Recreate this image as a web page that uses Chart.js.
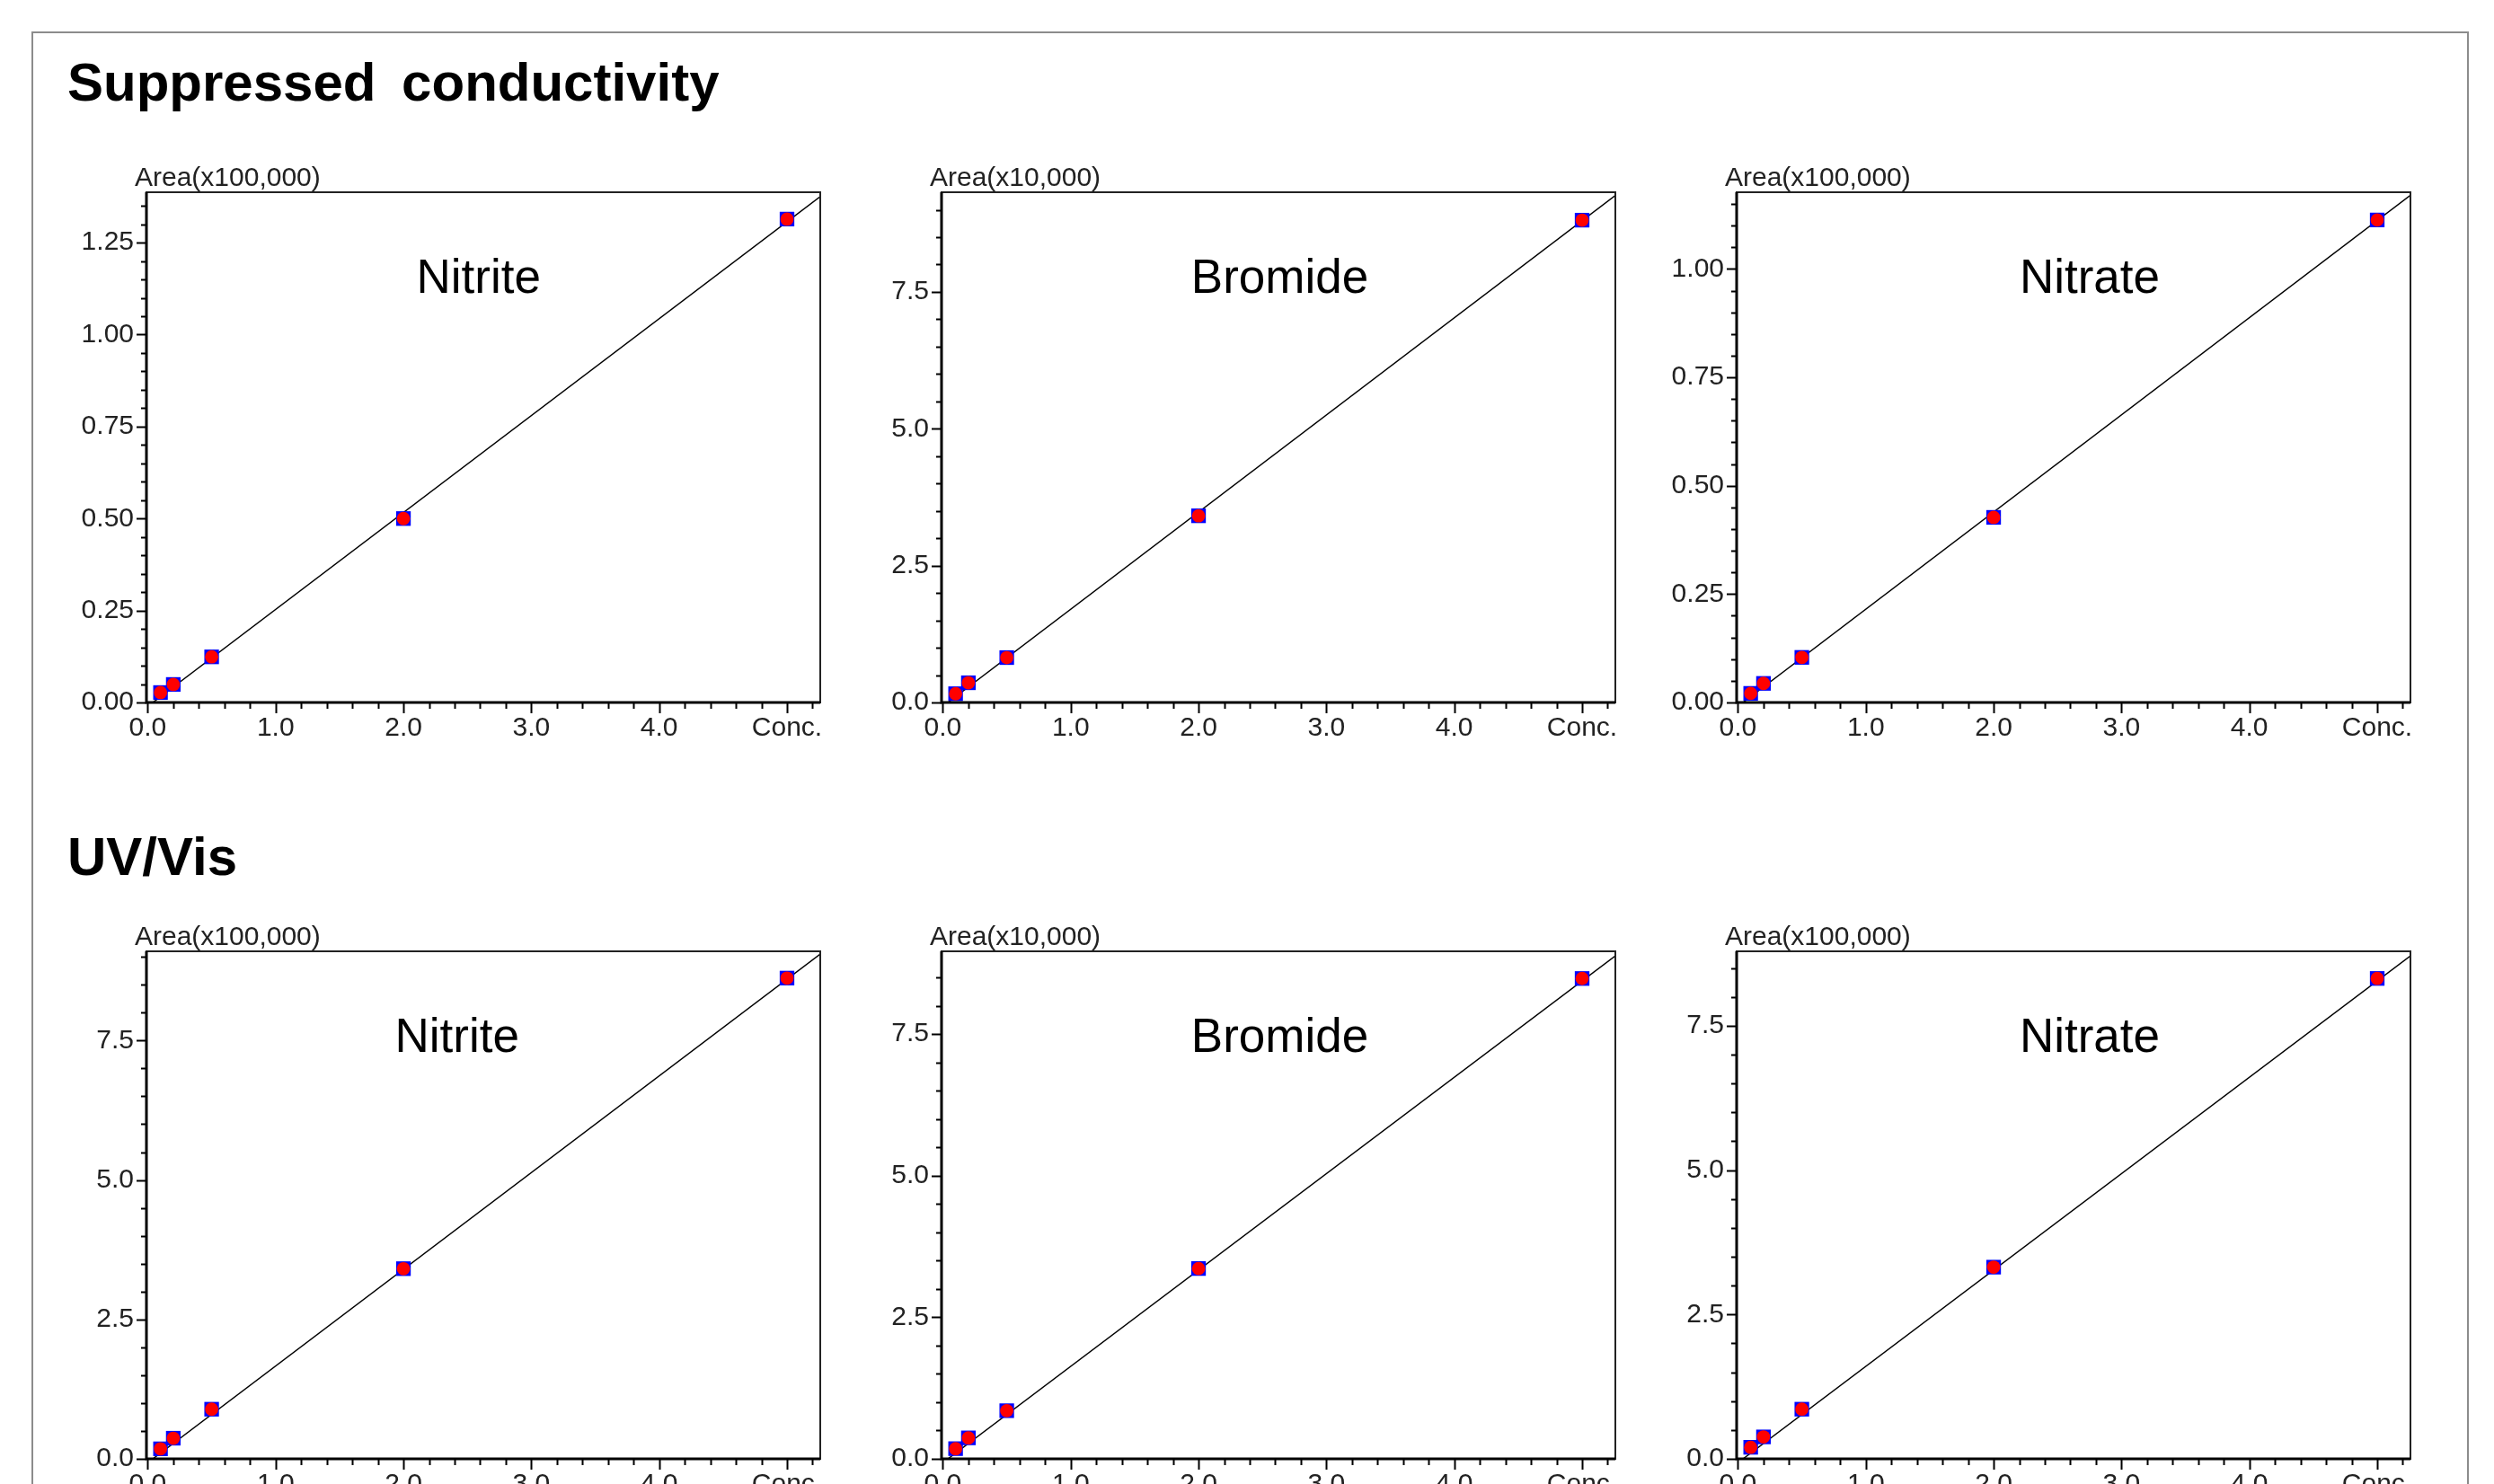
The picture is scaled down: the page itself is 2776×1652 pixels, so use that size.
<!DOCTYPE html>
<html>
<head>
<meta charset="utf-8">
<script src="https://cdn.jsdelivr.net/npm/chart.js@4.4.1/dist/chart.umd.min.js"></script>
<style>
    html, body {
        margin: 0;
        padding: 0;
        background: #fff;
        width: 2776px;
        height: 1652px;
        overflow: hidden;
    }
    #frame {
        position: absolute;
        left: 35px;
        top: 35px;
        width: 2709px;
        height: 1700px;
        border: 2px solid #8c8c8c;
    }
    .section {
        position: absolute;
        left: 75px;
        font-family: "Liberation Sans", Arial, sans-serif;
        font-weight: bold;
        font-size: 60px;
        line-height: 1;
        color: #000;
        white-space: nowrap;
        word-spacing: 12px;
    }
    canvas {
        position: absolute;
    }
</style>
</head>
<body>
<div id="frame"></div>
<div class="section" style="top: 62px;">Suppressed conductivity</div>
<div class="section" style="top: 924px;">UV/Vis</div>

<script>
// 濃度（横軸）
const concentrations = [0.1, 0.2, 0.5, 2.0, 5.0];
const xTickValues = [0, 1, 2, 3, 4, 5];
const xTickLabels = ["0.0", "1.0", "2.0", "3.0", "4.0", "Conc."];

// 縦軸目盛
const yLabelsSmall = ["0.00", "0.25", "0.50", "0.75", "1.00", "1.25"];
const yLabelsLarge = ["0.0", "2.5", "5.0", "7.5"];

// Suppressed conductivity
const condNitriteArea = [0.027, 0.049, 0.124, 0.500, 1.314];
const condBromideArea = [0.16, 0.36, 0.82, 3.41, 8.81];
const condNitrateArea = [0.021, 0.044, 0.104, 0.427, 1.113];

// UV/Vis
const uvNitriteArea = [0.18, 0.37, 0.89, 3.41, 8.62];
const uvBromideArea = [0.18, 0.37, 0.85, 3.36, 8.48];
const uvNitrateArea = [0.20, 0.38, 0.86, 3.32, 8.32];

// 検量線の両端
const fitConc = [0.04, 5.26];
const condNitriteFit = [0, 1.375];
const condBromideFit = [0, 9.26];
const condNitrateFit = [0, 1.170];
const uvNitriteFit = [0, 9.05];
const uvBromideFit = [0, 8.88];
const uvNitrateFit = [0, 8.71];

const FONT = '"Liberation Sans", Arial, sans-serif';
const AXIS_W = 150;
const AXIS_H = 80;
const PAD_T = 70;
const PAD_R = 30;
const PLOT_W = 750;

Chart.defaults.font.family = FONT;

const panels = [
    { left: 163, top: 214, plotH: 568, area: condNitriteArea, fit: condNitriteFit, yMax: 1.387, yLabels: yLabelsSmall, minor: 0.05, unit: "Area(x100,000)", name: "Nitrite", nameAt: 0.493 },
    { left: 1048, top: 214, plotH: 568, area: condBromideArea, fit: condBromideFit, yMax: 9.32, yLabels: yLabelsLarge, minor: 0.5, unit: "Area(x10,000)", name: "Bromide", nameAt: 0.502 },
    { left: 1933, top: 214, plotH: 568, area: condNitrateArea, fit: condNitrateFit, yMax: 1.177, yLabels: yLabelsSmall, minor: 0.05, unit: "Area(x100,000)", name: "Nitrate", nameAt: 0.524 },
    { left: 163, top: 1059, plotH: 565, area: uvNitriteArea, fit: uvNitriteFit, yMax: 9.1, yLabels: yLabelsLarge, minor: 0.5, unit: "Area(x100,000)", name: "Nitrite", nameAt: 0.461 },
    { left: 1048, top: 1059, plotH: 565, area: uvBromideArea, fit: uvBromideFit, yMax: 8.96, yLabels: yLabelsLarge, minor: 0.5, unit: "Area(x10,000)", name: "Bromide", nameAt: 0.502 },
    { left: 1933, top: 1059, plotH: 565, area: uvNitrateArea, fit: uvNitrateFit, yMax: 8.79, yLabels: yLabelsLarge, minor: 0.5, unit: "Area(x100,000)", name: "Nitrate", nameAt: 0.524 }
];

function findLabel(values, labels, v) {
    const i = values.findIndex(t => Math.abs(t - v) < 1e-6);
    return i >= 0 ? labels[i] : "";
}

// 枠・目盛・ラベル
const framePlugin = {
    id: "calibFrame",
    afterDraw(chart, args, opts) {
        const { ctx, chartArea: a, scales } = chart;
        ctx.save();
        ctx.strokeStyle = "#222";
        ctx.lineWidth = 2;
        ctx.strokeRect(a.left, a.top, a.right - a.left, a.bottom - a.top);

        ctx.strokeStyle = "#000";
        ctx.lineWidth = 3;
        ctx.beginPath();
        ctx.moveTo(a.left, a.top);
        ctx.lineTo(a.left, a.bottom);
        ctx.lineTo(a.right, a.bottom);
        ctx.stroke();

        ctx.lineWidth = 2;
        ctx.beginPath();
        scales.y.ticks.forEach(t => {
            const py = Math.round(scales.y.getPixelForValue(t.value)) + 0.5;
            const len = t.label ? 11 : 6;
            ctx.moveTo(a.left, py);
            ctx.lineTo(a.left - len, py);
        });
        scales.x.ticks.forEach(t => {
            const px = Math.round(scales.x.getPixelForValue(t.value)) + 0.5;
            const len = t.label ? 12 : 7;
            ctx.moveTo(px, a.bottom);
            ctx.lineTo(px, a.bottom + len);
        });
        ctx.stroke();

        ctx.fillStyle = "#222";
        ctx.font = "30px " + FONT;
        ctx.textAlign = "left";
        ctx.textBaseline = "alphabetic";
        ctx.fillText(opts.unit, a.left - 13, a.top - 7);

        ctx.fillStyle = "#000";
        ctx.font = "53px " + FONT;
        ctx.textAlign = "center";
        ctx.fillText(opts.name, a.left + (a.right - a.left) * opts.nameAt, a.top + 112);
        ctx.restore();
    }
};

function makePanel(p) {
    const canvas = document.createElement("canvas");
    canvas.width = PLOT_W + AXIS_W + PAD_R;
    canvas.height = p.plotH + PAD_T + AXIS_H;
    canvas.style.left = (p.left - AXIS_W) + "px";
    canvas.style.top = (p.top - PAD_T) + "px";
    document.body.appendChild(canvas);

    const points = concentrations.map((c, i) => ({ x: c, y: p.area[i] }));
    const yValues = p.yLabels.map(Number);

    new Chart(canvas, {
        type: "scatter",
        data: {
            datasets: [
                {
                    data: fitConc.map((c, i) => ({ x: c, y: p.fit[i] })),
                    showLine: true,
                    borderColor: "#000",
                    borderWidth: 1.5,
                    pointRadius: 0,
                    order: 2
                },
                {
                    data: points,
                    pointStyle: "rect",
                    pointRadius: 11.5,
                    backgroundColor: "#0000ff",
                    borderWidth: 0,
                    order: 1
                },
                {
                    data: points,
                    pointStyle: "circle",
                    pointRadius: 7.4,
                    backgroundColor: "#ff0000",
                    borderWidth: 0,
                    order: 0
                }
            ]
        },
        options: {
            responsive: false,
            animation: false,
            devicePixelRatio: 1,
            layout: {
                padding: { top: PAD_T, right: PAD_R, left: 0, bottom: 0 }
            },
            plugins: {
                legend: { display: false },
                tooltip: { enabled: false },
                calibFrame: { unit: p.unit, name: p.name, nameAt: p.nameAt }
            },
            scales: {
                x: {
                    type: "linear",
                    min: -0.01,
                    max: 5.26,
                    grid: { display: false },
                    border: { display: false },
                    afterFit(scale) { scale.height = AXIS_H; },
                    ticks: {
                        stepSize: 0.2,
                        includeBounds: false,
                        autoSkip: false,
                        maxRotation: 0,
                        padding: 3,
                        color: "#222",
                        font: { size: 30 },
                        callback: v => findLabel(xTickValues, xTickLabels, v)
                    }
                },
                y: {
                    type: "linear",
                    min: 0,
                    max: p.yMax,
                    grid: { display: false },
                    border: { display: false },
                    afterFit(scale) { scale.width = AXIS_W; },
                    ticks: {
                        stepSize: p.minor,
                        includeBounds: false,
                        autoSkip: false,
                        padding: 6,
                        color: "#222",
                        font: { size: 30 },
                        callback: v => findLabel(yValues, p.yLabels, v)
                    }
                }
            }
        },
        plugins: [framePlugin]
    });
}

panels.forEach(makePanel);
</script>
</body>
</html>
